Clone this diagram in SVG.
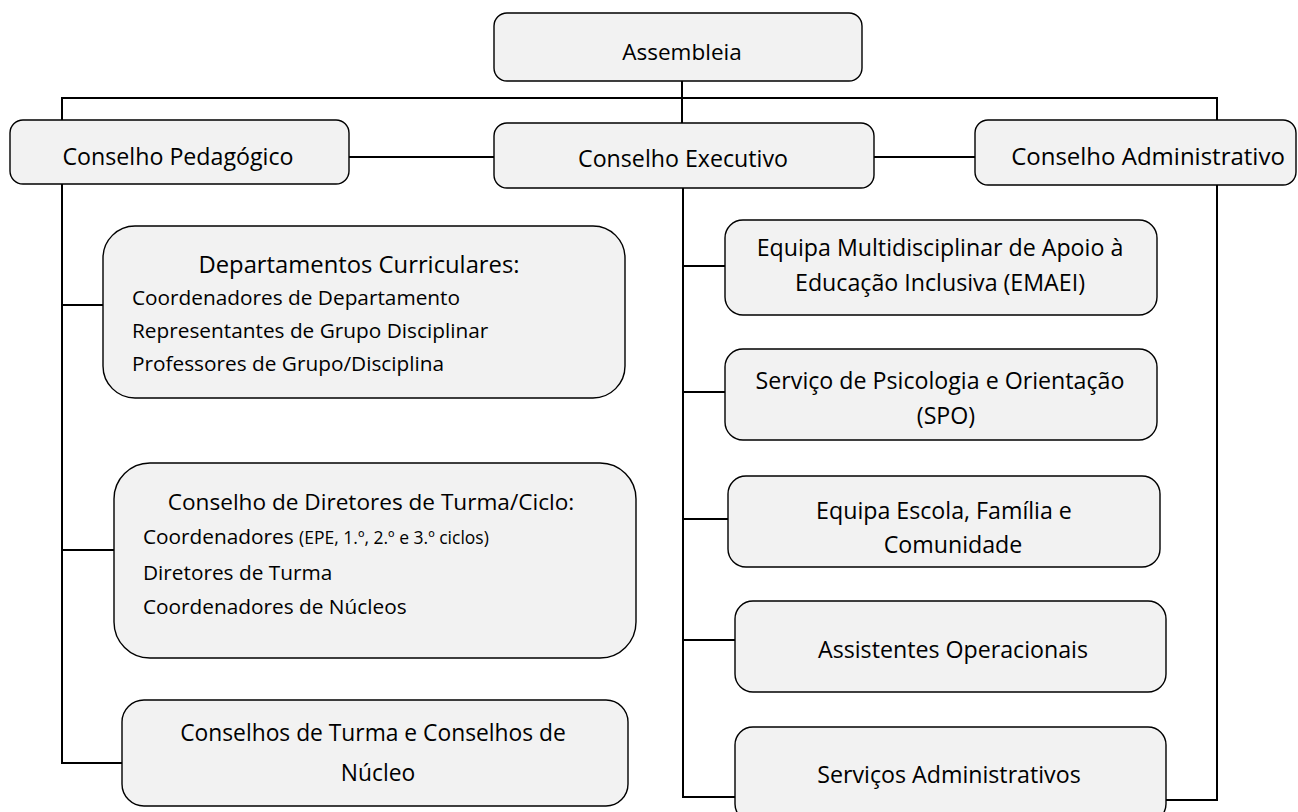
<svg xmlns="http://www.w3.org/2000/svg" width="1298" height="812" viewBox="0 0 1298 812">
<style>
.box{fill:#f2f2f2;stroke:#000;stroke-width:1.4}
.t{font-family:"Open Sans","Noto Sans",sans-serif;font-size:23.2px;fill:#000}
.c{text-anchor:middle}
.m{font-size:20.8px}
.s{font-size:17.5px}
.ln{stroke:#000;stroke-width:2;fill:none}
</style>
<rect width="1298" height="812" fill="#fff"/>
<g id="connectors">
<path class="ln" d="M682 81 V123"/>
<path class="ln" d="M62 120 V98 H1217 V120"/>
<path class="ln" d="M349 157 H494"/>
<path class="ln" d="M874 157 H975"/>
<path class="ln" d="M62 184 V763 H122"/>
<path class="ln" d="M62 305 H103"/>
<path class="ln" d="M62 550 H114"/>
<path class="ln" d="M683 188 V797 H735"/>
<path class="ln" d="M683 266 H725"/>
<path class="ln" d="M683 392 H725"/>
<path class="ln" d="M683 519 H728"/>
<path class="ln" d="M683 640 H735"/>
<path class="ln" d="M1217 185 V800 H1166"/>
</g>
<g id="assembleia">
<rect class="box" x="494" y="13" width="368" height="68" rx="13"/>
<text class="t c" x="682" y="60" style="font-size:22.5px">Assembleia</text>
</g>
<g id="pedagogico">
<rect class="box" x="10" y="120" width="339" height="64" rx="13"/>
<text class="t c" x="178" y="165">Conselho Pedagógico</text>
</g>
<g id="executivo">
<rect class="box" x="494" y="123" width="380" height="65" rx="13"/>
<text class="t c" x="683" y="167">Conselho Executivo</text>
</g>
<g id="administrativo">
<rect class="box" x="975" y="120" width="321" height="65" rx="13"/>
<text class="t c" x="1148" y="165" style="font-size:24px">Conselho Administrativo</text>
</g>
<g id="departamentos">
<rect class="box" x="103" y="226" width="522" height="172" rx="32"/>
<text class="t c" x="359" y="273" style="font-size:23.8px">Departamentos Curriculares:</text>
<text class="t m" x="132" y="305">Coordenadores de Departamento</text>
<text class="t m" x="132" y="338">Representantes de Grupo Disciplinar</text>
<text class="t m" x="132" y="371">Professores de Grupo/Disciplina</text>
</g>
<g id="diretores">
<rect class="box" x="114" y="463" width="522" height="195" rx="36"/>
<text class="t c" x="371" y="510" style="font-size:22.6px">Conselho de Diretores de Turma/Ciclo:</text>
<text class="t m" x="143" y="544">Coordenadores <tspan class="s">(EPE, 1.º, 2.º e 3.º ciclos)</tspan></text>
<text class="t m" x="143" y="580">Diretores de Turma</text>
<text class="t m" x="143" y="614">Coordenadores de Núcleos</text>
</g>
<g id="turma">
<rect class="box" x="122" y="700" width="506" height="106" rx="22"/>
<text class="t c" x="373" y="741" style="font-size:22.8px">Conselhos de Turma e Conselhos de</text>
<text class="t c" x="378" y="781" style="font-size:22.8px">Núcleo</text>
</g>
<g id="emaei">
<rect class="box" x="725" y="220" width="432" height="95" rx="18"/>
<text class="t c" x="940" y="256">Equipa Multidisciplinar de Apoio à</text>
<text class="t c" x="940" y="291">Educação Inclusiva (EMAEI)</text>
</g>
<g id="spo">
<rect class="box" x="725" y="349" width="432" height="91" rx="18"/>
<text class="t c" x="940" y="389">Serviço de Psicologia e Orientação</text>
<text class="t c" x="946" y="424">(SPO)</text>
</g>
<g id="escola">
<rect class="box" x="728" y="476" width="432" height="91" rx="18"/>
<text class="t c" x="944" y="519">Equipa Escola, Família e</text>
<text class="t c" x="953" y="553">Comunidade</text>
</g>
<g id="assistentes">
<rect class="box" x="735" y="601" width="431" height="91" rx="18"/>
<text class="t c" x="953" y="658">Assistentes Operacionais</text>
</g>
<g id="servicos">
<rect class="box" x="735" y="727" width="431" height="95" rx="18"/>
<text class="t c" x="949" y="783">Serviços Administrativos</text>
</g>
</svg>
